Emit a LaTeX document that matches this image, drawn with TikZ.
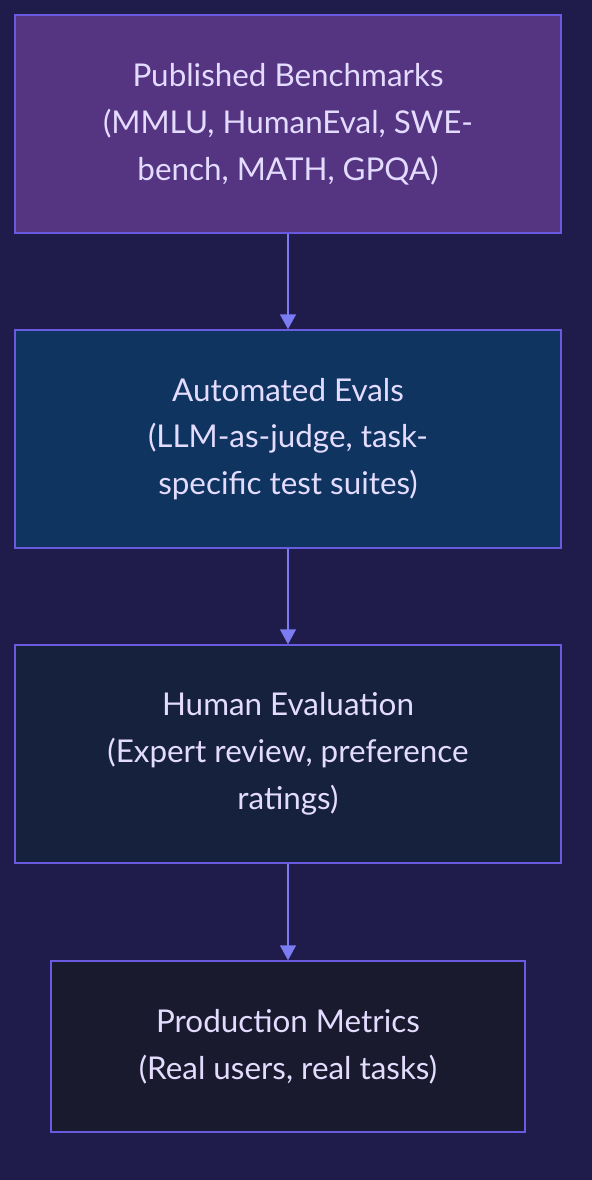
\documentclass[tikz,border=0pt]{standalone}
\usepackage{fontspec}
\setmainfont{Lato}
\usetikzlibrary{arrows.meta}
\definecolor{bgcol}{HTML}{1F1B4B}
\definecolor{edgecol}{HTML}{6A5AE0}
\definecolor{arrowcol}{HTML}{7B7BF2}
\definecolor{txtcol}{HTML}{E4DCFF}
\definecolor{benchfill}{HTML}{553582}
\definecolor{autofill}{HTML}{0F3460}
\definecolor{humanfill}{HTML}{16213E}
\definecolor{prodfill}{HTML}{1A1A2E}
\tikzset{
	stage/.style={draw=edgecol, line width=1.5bp, text=txtcol, align=center,
		minimum width=546bp, minimum height=218bp, inner sep=0pt,
		font=\fontsize{31.5}{47}\selectfont},
	flow/.style={draw=arrowcol, line width=1.5bp, -{Triangle[width=16bp,length=15bp]}}
}
\begin{document}
\begin{tikzpicture}[x=1bp,y=-1bp]
	\fill[bgcol] (0,0) rectangle (592,1180);
	\useasboundingbox (0,0) rectangle (592,1180);
	\node[stage, fill=benchfill] (bench) at (288,124) {Published Benchmarks\\(MMLU, HumanEval, SWE-\\bench, MATH, GPQA)};
	\node[stage, fill=autofill] (auto) at (288,439) {Automated Evals\\(LLM-as-judge, task-\\specific test suites)};
	\node[stage, fill=humanfill] (human) at (288,754) {Human Evaluation\\(Expert review, preference\\ratings)};
	\node[stage, fill=prodfill, minimum width=474bp, minimum height=171bp] (prod) at (288,1046.5) {Production Metrics\\(Real users, real tasks)};
	
	\draw[flow] (bench) -- (auto);
	\draw[flow] (auto) -- (human);
	\draw[flow] (human) -- (prod);
\end{tikzpicture}
\end{document}
